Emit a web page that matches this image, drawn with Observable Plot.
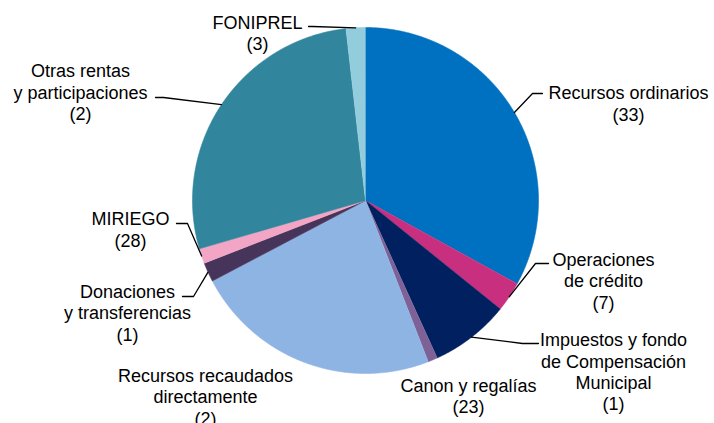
<!DOCTYPE html>
<html>
<head>
<meta charset="utf-8">
<script src="https://cdn.jsdelivr.net/npm/d3@7"></script>
<script src="https://cdn.jsdelivr.net/npm/@observablehq/plot@0.6"></script>
<style>
  html, body { margin: 0; padding: 0; background: #ffffff; }
  #chart { width: 714px; height: 423px; }
</style>
</head>
<body>
<div id="chart"></div>
<script>
// ---- Data ----
const categories = [
  "Recursos ordinarios",
  "Operaciones de crédito",
  "Impuestos y fondo de Compensación Municipal",
  "Canon y regalías",
  "Recursos recaudados directamente",
  "Donaciones y transferencias",
  "MIRIEGO",
  "Otras rentas y participaciones",
  "FONIPREL"
];
// slice shares as drawn (%)
const sliceShares = [33.0, 2.8, 7.4, 0.9, 23.2, 1.8, 1.4, 27.7, 1.8];
// numbers printed in the labels
const labelValues = [33, 7, 1, 23, 2, 1, 28, 2, 3];
// label text, as broken in the picture
const labelText = [
  "Recursos ordinarios",
  "Operaciones\nde crédito",
  "Impuestos y fondo\nde Compensación\nMunicipal",
  "Canon y regalías",
  "Recursos recaudados\ndirectamente",
  "Donaciones\ny transferencias",
  "MIRIEGO",
  "Otras rentas\ny participaciones",
  "FONIPREL"
];

// ---- Styles & layout ----
const colors = ["#0070C0", "#C8307F", "#002060", "#7D6197", "#8EB4E3", "#47345A", "#F2A5C5", "#31859C", "#93CDDD"];
const W = 714, H = 423, cx = 365, cy = 200, R = 173;
// label block centre (px) and leader elbow/end (px); null = no leader
const labelLayout = [
  {x: 628, y: 102.5, elbow: [532, 93],  end: [542, 93]},
  {x: 603, y: 280,   elbow: [535, 263], end: [548, 263]},
  {x: 613, y: 371,   elbow: [522, 343], end: [538, 343]},
  {x: 468, y: 395,   elbow: null, end: null},
  {x: 205, y: 396,   elbow: null, end: null},
  {x: 127, y: 312,   elbow: [193, 296], end: [182, 296]},
  {x: 130, y: 228.5, elbow: [187, 223], end: [176, 223]},
  {x: 80,  y: 91.5,  elbow: [163, 97],  end: [155, 97]},
  {x: 257, y: 32,    elbow: [312, 26],  end: [308, 26]}
];

// ---- Geometry from data ----
const arcs = d3.pie().sort(null).value(d => d)(sliceShares);
const polar = (a, r) => ({x: cx + r * Math.sin(a), y: cy - r * Math.cos(a)});

const slicePts = arcs.flatMap((a, i) => {
  const n = Math.max(2, Math.ceil((a.endAngle - a.startAngle) / 0.005));
  const pts = [{i, x: cx, y: cy}];
  for (let k = 0; k <= n; k++) {
    const t = a.startAngle + (a.endAngle - a.startAngle) * k / n;
    pts.push({i, ...polar(t, R)});
  }
  return pts;
});

const leaderPts = arcs.flatMap((a, i) => {
  const L = labelLayout[i];
  if (!L.elbow) return [];
  const mid = (a.startAngle + a.endAngle) / 2;
  const s = polar(mid, R);
  return [
    {i, x: s.x, y: s.y},
    {i, x: L.elbow[0], y: L.elbow[1]},
    {i, x: L.end[0], y: L.end[1]}
  ];
});

const labels = categories.map((c, i) => ({
  x: labelLayout[i].x,
  y: labelLayout[i].y,
  text: labelText[i] + "\n(" + labelValues[i] + ")"
}));

const chart = Plot.plot({
  width: W,
  height: H,
  margin: 0,
  x: {domain: [0, W], range: [0, W], axis: null},
  y: {domain: [0, H], range: [0, H], axis: null},
  color: {type: "identity"},
  style: {fontFamily: "'Liberation Sans', Arial, sans-serif", background: "#ffffff", color: "#000"},
  marks: [
    Plot.line(slicePts, {x: "x", y: "y", z: "i", fill: d => colors[d.i], stroke: d => colors[d.i], strokeWidth: 0.6, curve: "linear"}),
    Plot.line(leaderPts, {x: "x", y: "y", z: "i", stroke: "#000", strokeWidth: 1.3}),
    Plot.text(labels, {x: "x", y: "y", text: "text", fontSize: 18, lineHeight: 1.19, textAnchor: "middle", fill: "#000"})
  ]
});
document.getElementById("chart").appendChild(chart);
</script>
</body>
</html>
